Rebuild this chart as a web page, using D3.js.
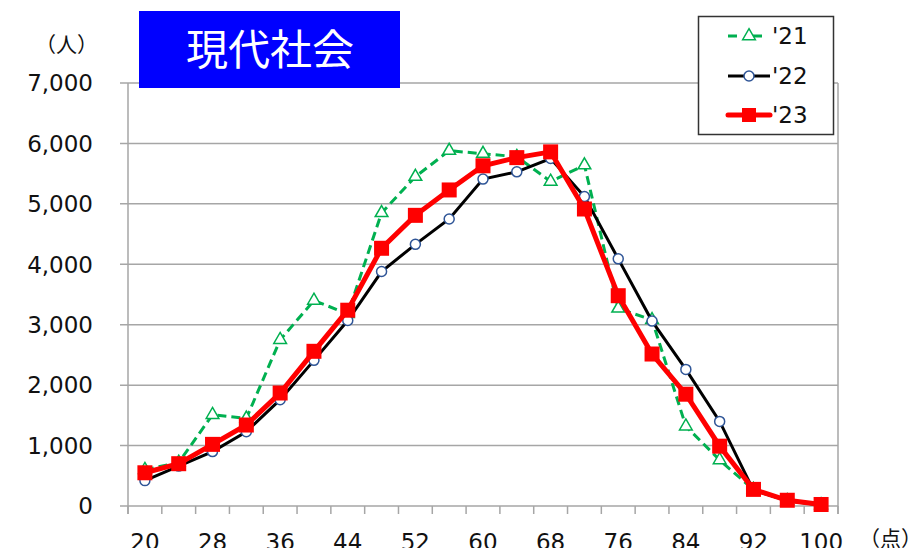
<!DOCTYPE html>
<html><head><meta charset="utf-8">
<script src="https://cdn.jsdelivr.net/npm/d3@7"></script>
<style>
html,body{margin:0;padding:0;background:#fff;overflow:hidden}
text{font-family:"DejaVu Sans",Verdana,sans-serif}
.cjk{font-family:"Noto Sans CJK JP","Noto Sans",sans-serif}
</style></head>
<body>
<svg id="c" width="924" height="548"></svg>
<script>
const categories = [20,24,28,32,36,40,44,48,52,56,60,64,68,72,76,80,84,88,92,96,100];
const xTickLabels = [20,28,36,44,52,60,68,76,84,92,100];
const yTicks = [0,1000,2000,3000,4000,5000,6000,7000];
const s21 = [600,720,1510,1450,2750,3400,3180,4850,5450,5880,5830,5780,5370,5640,3270,3080,1320,760,270,85,15];
const s22 = [420,660,900,1230,1760,2410,3070,3880,4330,4750,5410,5530,5750,5120,4090,3060,2260,1400,260,90,15];
const s23 = [550,700,1020,1340,1870,2560,3240,4265,4810,5230,5630,5765,5860,4915,3480,2515,1850,990,275,95,25];
const seriesNames = ["'21","'22","'23"];
const title = "現代社会";
const yUnit = "（人）";
const xUnit = "（点）";

const svg = d3.select("#c");
const L=128, R=838, T=83, B=506;
const x = d3.scaleBand().domain(categories).range([L,R]).padding(0);
const y = d3.scaleLinear().domain([0,7000]).range([B,T]);
const grid = "#a6a6a6";

// gridlines
svg.append("g").selectAll("line").data(yTicks).join("line")
  .attr("x1",L-8).attr("x2",R).attr("y1",d=>y(d)).attr("y2",d=>y(d))
  .attr("stroke",grid).attr("stroke-width",1.5);
// left axis and right border
svg.append("line").attr("x1",L).attr("x2",L).attr("y1",T).attr("y2",B+8).attr("stroke",grid).attr("stroke-width",1.5);
svg.append("line").attr("x1",R).attr("x2",R).attr("y1",T).attr("y2",B+8).attr("stroke",grid).attr("stroke-width",1.5);
// x ticks at band boundaries
const bounds = categories.map(c=>x(c)).concat([R]);
svg.append("g").selectAll("line").data(bounds).join("line")
  .attr("x1",d=>d).attr("x2",d=>d).attr("y1",B).attr("y2",B+8)
  .attr("stroke",grid).attr("stroke-width",1.5);

// y labels
svg.append("g").selectAll("text").data(yTicks).join("text")
  .attr("x",93).attr("y",d=>y(d)).attr("dy","0.36em").attr("text-anchor","end")
  .attr("font-size",23).attr("fill","#111").text(d=>d3.format(",")(d));
// x labels
svg.append("g").selectAll("text").data(xTickLabels).join("text")
  .attr("x",d=>x(d)+x.bandwidth()/2).attr("y",550).attr("text-anchor","middle")
  .attr("font-size",23).attr("fill","#111").text(d=>d);

svg.append("text").attr("class","cjk").attr("x",98).attr("y",52).attr("text-anchor","end")
  .attr("font-size",21).attr("fill","#111").text(yUnit);
svg.append("text").attr("class","cjk").attr("x",922).attr("y",546).attr("text-anchor","end")
  .attr("font-size",21).attr("fill","#111").text(xUnit);

// title
svg.append("rect").attr("x",139).attr("y",11).attr("width",261).attr("height",77).attr("fill","#0000ff");
svg.append("text").attr("class","cjk").attr("x",270).attr("y",50).attr("dy","0.36em")
  .attr("text-anchor","middle").attr("font-size",42).attr("fill","#fff").text(title);

const cx = d=>x(d)+x.bandwidth()/2;
const line = d3.line().x((d,i)=>cx(categories[i])).y(d=>y(d));
const green="#00b050", blue="#2f5597", red="#ff0000";
const tri = d3.symbol().type(d3.symbolTriangle).size(70);

// '21
svg.append("path").datum(s21).attr("d",line).attr("fill","none").attr("stroke",green)
  .attr("stroke-width",3).attr("stroke-dasharray","9,5");
svg.append("g").selectAll("path").data(s21).join("path").attr("d",tri)
  .attr("transform",(d,i)=>`translate(${cx(categories[i])},${y(d)})`)
  .attr("fill","#fff").attr("stroke",green).attr("stroke-width",1.5);
// '22
svg.append("path").datum(s22).attr("d",line).attr("fill","none").attr("stroke","#000").attr("stroke-width",3);
svg.append("g").selectAll("circle").data(s22).join("circle")
  .attr("cx",(d,i)=>cx(categories[i])).attr("cy",d=>y(d)).attr("r",5)
  .attr("fill","#fff").attr("stroke",blue).attr("stroke-width",1.5);
// '23
svg.append("path").datum(s23).attr("d",line).attr("fill","none").attr("stroke",red).attr("stroke-width",5);
svg.append("g").selectAll("rect").data(s23).join("rect")
  .attr("x",(d,i)=>cx(categories[i])-7.5).attr("y",d=>y(d)-7.5).attr("width",15).attr("height",15)
  .attr("fill",red);

// legend
const lg = svg.append("g");
lg.append("rect").attr("x",698.5).attr("y",16.5).attr("width",135).attr("height",118)
  .attr("fill","#fff").attr("stroke","#333").attr("stroke-width",1.5);
const rows=[36,76,115];
// '21
lg.append("line").attr("x1",728).attr("x2",770).attr("y1",rows[0]).attr("y2",rows[0])
  .attr("stroke",green).attr("stroke-width",3).attr("stroke-dasharray","9,7,0,9,9");
lg.append("path").attr("d",tri).attr("transform",`translate(749,${rows[0]})`)
  .attr("fill","#fff").attr("stroke",green).attr("stroke-width",1.5);
// '22
lg.append("line").attr("x1",728).attr("x2",770).attr("y1",rows[1]).attr("y2",rows[1]).attr("stroke","#000").attr("stroke-width",3);
lg.append("circle").attr("cx",749).attr("cy",rows[1]).attr("r",5).attr("fill","#fff").attr("stroke",blue).attr("stroke-width",1.5);
// '23
lg.append("line").attr("x1",728).attr("x2",770).attr("y1",rows[2]).attr("y2",rows[2]).attr("stroke",red).attr("stroke-width",5).attr("stroke-linecap","round");
lg.append("rect").attr("x",742).attr("y",rows[2]-7).attr("width",14).attr("height",14).attr("fill",red);
lg.selectAll("text.lt").data(seriesNames).join("text").attr("class","lt")
  .attr("x",772).attr("y",(d,i)=>rows[i]).attr("dy","0.36em").attr("font-size",23).attr("fill","#111").text(d=>d);
</script>
</body></html>
